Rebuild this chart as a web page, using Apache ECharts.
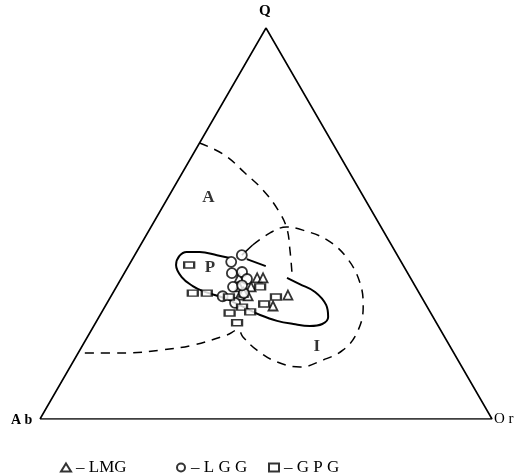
<!DOCTYPE html>
<html><head><meta charset="utf-8">
<script src="https://cdn.jsdelivr.net/npm/echarts@6/dist/echarts.min.js"></script>
<style>html,body{margin:0;padding:0;background:#fff}#c{width:526px;height:476px}</style>
</head><body><div id="c"></div>
<script>
// Ternary data: each point is [Q, Or] in percent (Ab = 100 - Q - Or)
const vertexNames = ['Q', 'A b', 'O r'];
const frame = [[0, 0], [0, 100], [100, 0], [0, 0]];
const lmg = [[36.1,26.0],[36.1,30.0],[36.1,31.3],[33.8,29.8],[31.7,28.4],[31.5,30.3],[28.9,37.1],[31.7,39.0],[33.8,27.2],[32.4,28.8]];
const lgg = [[40.2,22.2],[41.9,23.7],[37.3,23.8],[37.6,25.9],[35.8,27.9],[33.8,25.8],[32.2,29.0],[29.7,28.3],[34.2,27.6],[31.4,24.7]];
const gpg = [[39.4,13.3],[32.2,17.7],[32.2,20.8],[33.8,31.8],[31.2,26.2],[28.6,30.4],[27.1,28.4],[27.4,32.8],[24.6,31.3],[29.4,34.9],[31.2,36.6]];
// field boundaries
const boundaryA = [[70.6,0],[67.5,7.1],[62.9,13.9],[58.6,20.0],[53.5,25.9],[48.8,30.2],[43.2,33.7],[37.3,37.1]];
const boundaryI = [[44.5,24.8],[47.6,27.1],[49.1,30.0],[48.3,34.0],[45.8,40.6],[41.2,47.3],[34.8,53.4],[28.6,57.2],[22.0,59.1],[17.6,58.2],[15.1,55.1],[13.3,50.9],[14.6,45.1],[17.6,39.2],[21.0,34.4],[22.8,32.4],[21.5,30.6],[18.9,24.4],[17.6,17.7],[16.9,10.8],[16.9,0]];
const curveP = [[41.2,21.4],[41.9,18.2],[42.7,14.0],[42.7,11.1],[41.7,10.0],[39.4,10.4],[36.3,13.2],[34.0,16.8],[32.7,19.7],[31.7,22.8],[30.9,25.4],[29.7,28.3],[28.1,31.9],[26.6,35.4],[25.1,39.9],[24.3,43.9],[23.8,47.8],[24.3,50.3],[26.1,50.7],[29.2,48.7],[32.5,44.6],[34.5,40.2],[36.1,36.6]];
const segP2 = [[40.9,25.3],[39.1,30.4]];
const tick = [[41.9,23.7],[44.5,24.8]];
const fieldLabels = [['A',[56.5,9.0]],['P',[38.6,18.3]],['I',[18.5,52.0]]];
const legendItems = [['LMG','– LMG','triangle',55],['LGG','– L G G','circle',171],['GPG','– G P G','rect',263]];

const S3 = Math.sqrt(3) / 2;
function xy(p) { const q = p[0] / 100, o = p[1] / 100; return [o + q / 2, q * S3]; }
const serif = '"Liberation Serif","DejaVu Serif",serif';

const chart = echarts.init(document.getElementById('c'));
function lineS(pts, type, w, smooth) {
  return { type: 'line', data: pts.map(xy), symbol: 'none', smooth: smooth, silent: true,
    lineStyle: { color: '#000', width: w, type: type }, z: 1 };
}
const mk = { color: '#fff', borderColor: '#000', borderWidth: 1.8 };
chart.setOption({
  animation: false,
  grid: { left: 40, top: 28, width: 452, height: 391, containLabel: false },
  xAxis: { type: 'value', min: 0, max: 1, show: false },
  yAxis: { type: 'value', min: 0, max: S3, show: false },
  legend: legendItems.map(it => ({
    left: it[3], top: 454, itemWidth: 10, itemHeight: 8, itemGap: 0,
    data: [{ name: it[0], icon: it[2] }],
    formatter: () => it[1],
    textStyle: { fontFamily: serif, fontSize: 17, color: '#000' }
  })),
  series: [
    lineS(frame, 'solid', 1.6, false),
    lineS(boundaryA, [9, 7], 1.5, 0.4),
    lineS(boundaryI, [9, 7], 1.5, 0.4),
    lineS(curveP, 'solid', 2, 0.4),
    lineS(segP2, 'solid', 1.8, false),
    lineS(tick, 'solid', 1.5, false),
    { name: 'LMG', type: 'scatter', data: lmg.map(xy), symbol: 'triangle', symbolSize: 9, itemStyle: mk, z: 3 },
    { name: 'LGG', type: 'scatter', data: lgg.map(xy), symbol: 'circle', symbolSize: 10, itemStyle: mk, z: 3 },
    { name: 'GPG', type: 'scatter', data: gpg.map(xy), symbol: 'rect', symbolSize: [10, 6], itemStyle: mk, z: 3 },
    { type: 'scatter', data: fieldLabels.map(f => ({ value: xy(f[1]), name: f[0] })), symbolSize: 2, silent: true,
      itemStyle: { color: 'rgba(0,0,0,0)' }, z: 4,
      label: { show: true, position: 'inside', formatter: '{b}', fontFamily: serif, fontWeight: 'bold', fontSize: 17, color: '#000' } }
  ],
  graphic: [
    { type: 'text', left: 259, top: 4, style: { text: vertexNames[0], font: 'bold 15px ' + serif, fill: '#000' } },
    { type: 'text', left: 11, top: 413, style: { text: vertexNames[1], font: 'bold 14px ' + serif, fill: '#000' } },
    { type: 'text', left: 494, top: 412, style: { text: vertexNames[2], font: '15px ' + serif, fill: '#000' } }
  ]
});
</script></body></html>
